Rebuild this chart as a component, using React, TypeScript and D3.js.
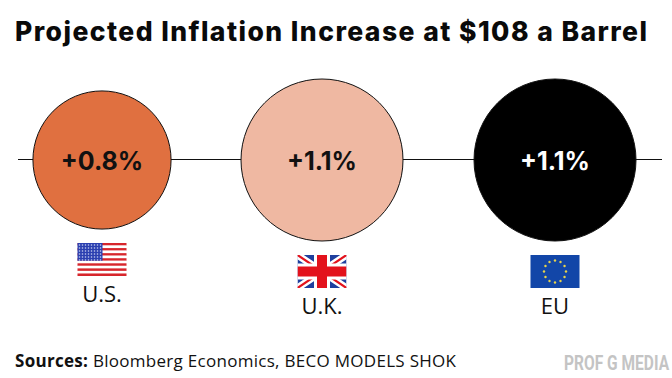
import React from "react";
import * as d3 from "d3";

const regions = ["U.S.", "U.K.", "EU"];
const increases = [0.8, 1.1, 1.1];
const valueLabels = ["+0.8%", "+1.1%", "+1.1%"];
const centerDomain = [0, 1, 2];
const fills = ["#E07040", "#EFB8A2", "#000000"];
const labelFills = ["#111111", "#111111", "#FFFFFF"];
const flagY = [243, 255, 255];
const labelY = [302, 314, 314];
const centersX = [102, 322, 555];
const FONT = "Inter, 'Open Sans', sans-serif";

const x = d3.scaleOrdinal<number, number>().domain(centerDomain).range(centersX);
const r = d3.scaleSqrt().domain([0, 1.1]).range([0, 81]);

function USFlag({ cx, y }: { cx: number; y: number }) {
  const w = 49, h = 33, left = cx - w / 2;
  const stripes = d3.range(13);
  const sy = d3.scaleBand<number>().domain(stripes).range([y, y + h]);
  const cw = 25, ch = sy.bandwidth() * 7;
  const starX = d3.range(8).map((i) => left + 2 + i * 3);
  const starY = d3.range(6).map((i) => y + 2 + i * 3);
  return (
    <g>
      {stripes.map((i) => (
        <rect key={i} x={left} y={sy(i)} width={w} height={sy.bandwidth()} fill={i % 2 ? "#FFFFFF" : "#D7262C"} />
      ))}
      <rect x={left} y={y} width={cw} height={ch} fill="#2A3FB0" />
      {starY.map((yy, j) =>
        starX.map((xx, i) => <circle key={`${i}-${j}`} cx={xx} cy={yy} r={0.8} fill="#C9D0F0" />)
      )}
    </g>
  );
}

function UKFlag({ cx, y }: { cx: number; y: number }) {
  const w = 49, h = 33, left = cx - w / 2, right = left + w, bot = y + h, mid = y + h / 2;
  return (
    <g>
      <clipPath id="uk-clip"><rect x={left} y={y} width={w} height={h} /></clipPath>
      <g clipPath="url(#uk-clip)">
        <rect x={left} y={y} width={w} height={h} fill="#1F3F9E" />
        <path d={`M${left},${y}L${right},${bot}M${right},${y}L${left},${bot}`} stroke="#FFFFFF" strokeWidth={7} />
        <path d={`M${left},${y}L${right},${bot}M${right},${y}L${left},${bot}`} stroke="#E3121C" strokeWidth={2.2} />
        <rect x={cx - 8} y={y} width={16} height={h} fill="#FFFFFF" />
        <rect x={left} y={mid - 8} width={w} height={16} fill="#FFFFFF" />
        <rect x={cx - 5} y={y} width={10} height={h} fill="#E3121C" />
        <rect x={left} y={mid - 5} width={w} height={10} fill="#E3121C" />
      </g>
    </g>
  );
}

function EUFlag({ cx, y }: { cx: number; y: number }) {
  const w = 49, h = 33, left = cx - w / 2, mid = y + h / 2;
  const angle = d3.scaleLinear().domain([0, 12]).range([0, Math.PI * 2]);
  return (
    <g>
      <rect x={left} y={y} width={w} height={h} fill="#1246A8" />
      {d3.range(12).map((i) => (
        <circle
          key={i}
          cx={cx + 11 * Math.sin(angle(i))}
          cy={mid - 11 * Math.cos(angle(i))}
          r={1.2}
          fill="#E8D44A"
        />
      ))}
    </g>
  );
}

const flags = [USFlag, UKFlag, EUFlag];

export default function App() {
  return (
    <svg
      width={672}
      height={378}
      viewBox="0 0 672 378"
      style={{ position: "absolute", left: 0, top: 0, background: "#fff" }}
    >
      <text x={15} y={41} fontFamily={FONT} fontWeight={800} fontSize={26.5} fill="#0A0A0A" textLength={632} lengthAdjust="spacing">
        Projected Inflation Increase at $108 a Barrel
      </text>
      <line x1={18} x2={662} y1={159.5} y2={159.5} stroke="#111" strokeWidth={1} />
      {regions.map((name, i) => {
        const Flag = flags[i];
        return (
          <g key={name}>
            <circle cx={x(i)} cy={160} r={r(increases[i])} fill={fills[i]} stroke="#111" strokeWidth={1} />
            <text x={x(i)} y={170} textAnchor="middle" fontFamily={FONT} fontWeight={700} fontSize={25} fill={labelFills[i]}>
              {valueLabels[i]}
            </text>
            <Flag cx={x(i)} y={flagY[i]} />
            <text x={x(i)} y={labelY[i]} textAnchor="middle" fontFamily="'Open Sans', sans-serif" fontSize={22} fill="#111">
              {name}
            </text>
          </g>
        );
      })}
      <text x={15} y={367} fontFamily="'Open Sans', sans-serif" fontSize={17} fill="#111" textLength={441} lengthAdjust="spacing">
        <tspan fontWeight={700}>Sources: </tspan>Bloomberg Economics, BECO MODELS SHOK
      </text>
      <text transform="translate(564,370) scale(0.74,1)" fontFamily="Roboto, sans-serif" fontWeight={700} fontSize={21} fill="#C4C4C4">
        PROF G MEDIA
      </text>
    </svg>
  );
}
